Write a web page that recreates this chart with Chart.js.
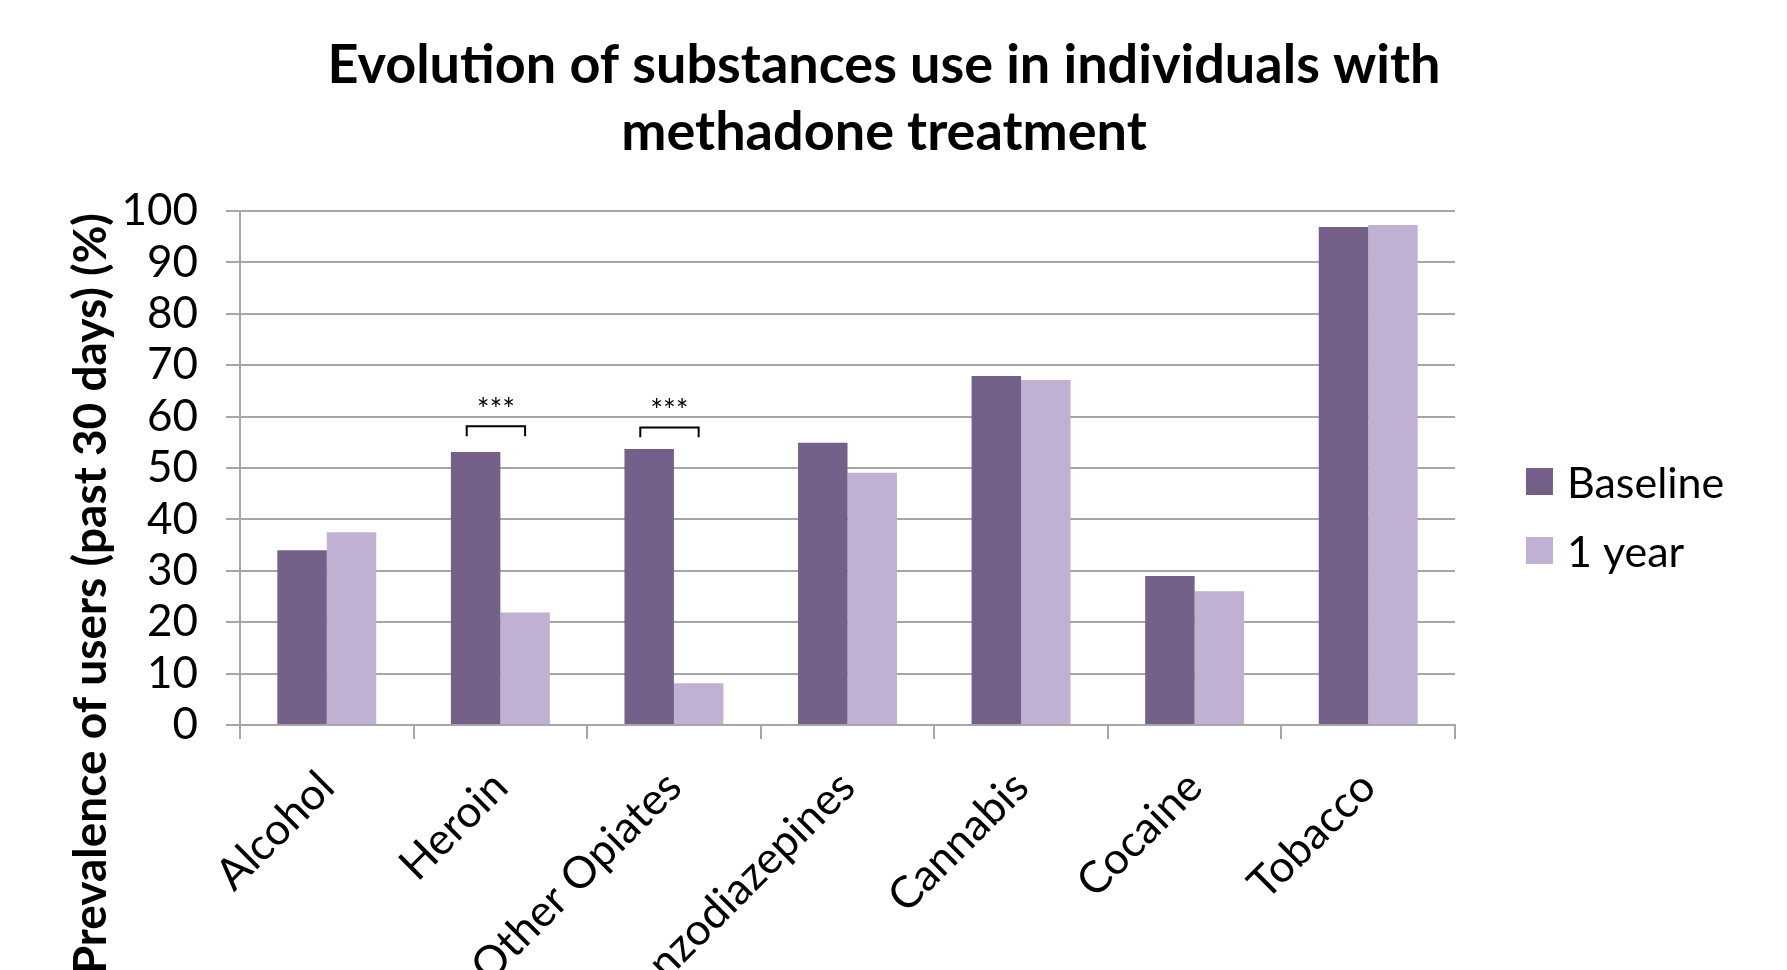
<!DOCTYPE html>
<html>
<head>
<meta charset="utf-8">
<script src="https://cdn.jsdelivr.net/npm/chart.js@4.4.1/dist/chart.umd.min.js"></script>
<style>
  html, body { margin: 0; padding: 0; background: #fff; overflow: hidden; }
</style>
</head>
<body>
<canvas id="barChart" width="1787" height="970"></canvas>
<script>
// data
const substances = ['Alcohol', 'Heroin', 'Other Opiates', 'Benzodiazepines', 'Cannabis', 'Cocaine', 'Tobacco'];
const baseline = [34.0, 53.1, 53.7, 54.9, 67.9, 29.0, 96.9];
const oneYear = [37.5, 21.9, 8.1, 49.1, 67.1, 26.0, 97.3];
const seriesNames = ['Baseline', '1 year'];
const yTicks = [0, 10, 20, 30, 40, 50, 60, 70, 80, 90, 100];
const sigCategories = ['Heroin', 'Other Opiates'];
const sigBracketTop = [58.1, 57.9];
const sigLabel = '***';

const titleLines = ['Evolution of substances use in individuals with', 'methadone treatment'];
const yTitle = 'Prevalence of users (past 30 days) (%)';

const FONT = 'Lato, "Open Sans", sans-serif';
const darkPurple = '#75608A';
const lightPurple = '#C0B1D2';
const gridGray = '#A6A6A6';

// title, axis title, legend and significance brackets
const decorations = {
    id: 'decorations',
    afterDatasetsDraw(chart) {
        const ctx = chart.ctx;
        const y = chart.scales.y;
        ctx.save();
        ctx.fillStyle = '#000';
        ctx.strokeStyle = '#000';

        // brackets
        ctx.lineWidth = 2;
        sigCategories.forEach((cat, i) => {
            const idx = substances.indexOf(cat);
            const b = chart.getDatasetMeta(0).data[idx];
            const o = chart.getDatasetMeta(1).data[idx];
            const x1 = b.x - b.width * 0.18;
            const x2 = o.x;
            const top = y.getPixelForValue(sigBracketTop[i]);
            const leg = y.getPixelForValue(sigBracketTop[i] - 1.9);
            ctx.beginPath();
            ctx.moveTo(x1, leg);
            ctx.lineTo(x1, top);
            ctx.lineTo(x2, top);
            ctx.lineTo(x2, leg);
            ctx.stroke();
            ctx.font = '30px ' + FONT;
            ctx.textAlign = 'center';
            ctx.textBaseline = 'middle';
            ctx.fillText(sigLabel, (x1 + x2) / 2, y.getPixelForValue(sigBracketTop[i] + 3.2));
        });

        // chart title
        ctx.font = 'bold 54px ' + FONT;
        ctx.textAlign = 'center';
        ctx.textBaseline = 'middle';
        ctx.fillText(titleLines[0], 884, 66);
        ctx.fillText(titleLines[1], 884, 133);

        // y axis title
        ctx.save();
        ctx.translate(91, 213);
        ctx.rotate(-Math.PI / 2);
        ctx.font = 'bold 46px ' + FONT;
        ctx.textAlign = 'right';
        ctx.textBaseline = 'middle';
        ctx.fillText(yTitle, 0, 0);
        ctx.restore();

        // legend
        const colors = [darkPurple, lightPurple];
        const rows = [482, 551];
        ctx.font = '43px ' + FONT;
        ctx.textAlign = 'left';
        ctx.textBaseline = 'middle';
        seriesNames.forEach((name, i) => {
            ctx.fillStyle = colors[i];
            ctx.fillRect(1526, rows[i] - 14, 27, 27);
            ctx.fillStyle = '#000';
            ctx.fillText(name, 1567, rows[i] + 2);
        });
        ctx.restore();
    }
};

new Chart(document.getElementById('barChart'), {
    type: 'bar',
    data: {
        labels: substances,
        datasets: [{
            label: seriesNames[0],
            data: baseline,
            backgroundColor: darkPurple,
            barPercentage: 1.0,
            categoryPercentage: 0.57
        }, {
            label: seriesNames[1],
            data: oneYear,
            backgroundColor: lightPurple,
            barPercentage: 1.0,
            categoryPercentage: 0.57
        }]
    },
    options: {
        responsive: false,
        animation: false,
        layout: {
            padding: { top: 211, right: 332, left: 0, bottom: 0 }
        },
        scales: {
            x: {
                grid: {
                    drawOnChartArea: false,
                    drawTicks: true,
                    tickLength: 14,
                    color: gridGray,
                    lineWidth: 2
                },
                border: { color: gridGray, width: 2 },
                ticks: {
                    color: '#000',
                    font: { family: FONT, size: 44 },
                    minRotation: 45,
                    maxRotation: 45,
                    padding: 22,
                    autoSkip: false
                },
                afterFit(scale) {
                    scale.height = 245;
                    scale.paddingLeft = 0;
                    scale.paddingRight = 0;
                }
            },
            y: {
                min: 0,
                max: 100,
                afterBuildTicks(scale) {
                    scale.ticks = yTicks.map(v => ({ value: v }));
                },
                grid: {
                    color: gridGray,
                    lineWidth: 2,
                    tickLength: 14
                },
                border: { color: gridGray, width: 2 },
                ticks: {
                    color: '#000',
                    font: { family: FONT, size: 44 },
                    padding: 28,
                    autoSkip: false
                },
                afterFit(scale) {
                    scale.width = 240;
                    scale.paddingTop = 0;
                    scale.paddingBottom = 0;
                }
            }
        },
        plugins: {
            legend: { display: false },
            title: { display: false },
            tooltip: { enabled: false }
        }
    },
    plugins: [decorations]
});
</script>
</body>
</html>
